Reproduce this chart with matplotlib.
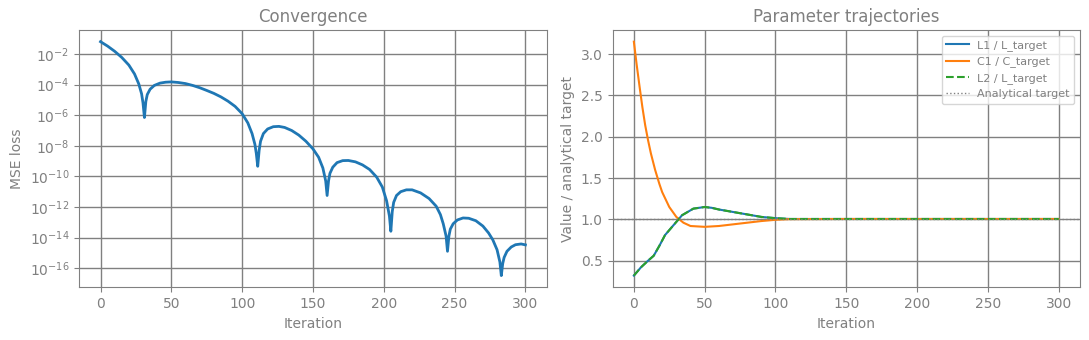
import matplotlib
matplotlib.use('Agg')
import matplotlib.pyplot as plt
import matplotlib.ticker as ticker

# Loss curve (iteration, log10 of MSE)
loss_iter = [0, 5, 10, 15, 20, 24, 27, 29, 30, 31, 32, 33, 35, 38, 42, 46, 50,
             55, 60, 65, 70, 75, 80, 85, 90, 95, 100, 104, 107, 109, 110, 111,
             112, 113, 115, 118, 122, 126, 130, 135, 140, 145, 150, 154, 157,
             159, 160, 161, 162, 164, 167, 171, 175, 180, 185, 190, 195, 199,
             202, 204, 205, 206, 207, 209, 212, 216, 220, 226, 232, 237, 240,
             242, 244, 245, 246, 247, 249, 252, 256, 260, 265, 270, 274, 277,
             280, 282, 283, 284, 285, 287, 290, 293, 297, 300]
loss_log10 = [-1.19, -1.48, -1.82, -2.22, -2.72, -3.30, -3.95, -4.60, -5.20,
              -6.15, -5.10, -4.65, -4.30, -4.05, -3.90, -3.84, -3.82, -3.86,
              -3.93, -4.05, -4.20, -4.38, -4.57, -4.80, -5.08, -5.42, -5.90,
              -6.50, -7.20, -7.90, -8.50, -9.34, -8.30, -7.70, -7.20, -6.90,
              -6.75, -6.73, -6.80, -7.00, -7.30, -7.70, -8.20, -8.75, -9.45,
              -10.30, -11.25, -10.30, -9.80, -9.40, -9.10, -8.97, -8.96, -9.05,
              -9.25, -9.55, -10.05, -10.70, -11.60, -12.60, -13.59, -12.30,
              -11.70, -11.25, -11.00, -10.88, -10.88, -11.08, -11.45, -11.95,
              -12.50, -13.10, -13.90, -14.90, -13.90, -13.45, -13.10, -12.85,
              -12.72, -12.74, -12.90, -13.25, -13.70, -14.15, -14.80, -15.60,
              -16.49, -15.70, -15.30, -14.90, -14.62, -14.47, -14.42, -14.48]
loss = [10 ** v for v in loss_log10]

# Parameter trajectories (ratio to analytical target)
c_iter = [0, 2, 4, 6, 8, 10, 12, 15, 18, 20, 25, 30, 35, 40, 50, 60, 70, 80,
          90, 100, 110, 150, 200, 250, 300]
c1_ratio = [3.15, 2.87, 2.61, 2.36, 2.14, 1.96, 1.80, 1.60, 1.43, 1.33, 1.15,
            1.03, 0.96, 0.92, 0.91, 0.92, 0.94, 0.96, 0.98, 0.995, 1.003,
            1.005, 1.005, 1.005, 1.005]
l_iter = [0, 5, 10, 14, 18, 22, 26, 30, 34, 38, 42, 46, 50, 55, 60, 70, 80,
          90, 100, 110, 150, 200, 250, 300]
l1_ratio = [0.32, 0.42, 0.50, 0.56, 0.68, 0.81, 0.89, 0.97, 1.05, 1.09, 1.13,
            1.14, 1.15, 1.14, 1.12, 1.09, 1.06, 1.03, 1.015, 1.005, 1.005,
            1.005, 1.005, 1.005]
l2_ratio = list(l1_ratio)

grey = '#808080'
plt.rcParams.update({
    'text.color': grey,
    'axes.labelcolor': grey,
    'axes.edgecolor': grey,
    'axes.titlecolor': grey,
    'xtick.color': grey,
    'ytick.color': grey,
    'grid.color': grey,
    'grid.linewidth': 1.0,
    'axes.grid': True,
})

fig, (ax1, ax2) = plt.subplots(1, 2, figsize=(10.89, 3.4), dpi=100)
fig.subplots_adjust(left=0.0728, right=0.9917, top=0.9118, bottom=0.155,
                    wspace=0.1412)

ax1.plot(loss_iter, loss, color='#1f77b4', lw=2)
ax1.set_yscale('log')
ax1.yaxis.set_major_locator(ticker.LogLocator(base=10, numticks=12))
ax1.yaxis.set_minor_locator(ticker.NullLocator())
ax1.set_title('Convergence', fontsize=12)
ax1.set_xlabel('Iteration')
ax1.set_ylabel('MSE loss')

ax2.plot(l_iter, l1_ratio, color='#1f77b4', lw=1.5, label='L1 / L_target')
ax2.plot(c_iter, c1_ratio, color='#ff7f0e', lw=1.5, label='C1 / C_target')
ax2.plot(l_iter, l2_ratio, color='#2ca02c', lw=1.5, ls='--', label='L2 / L_target')
ax2.axhline(1.0, color=grey, lw=1, ls=':', label='Analytical target')
ax2.set_title('Parameter trajectories', fontsize=12)
ax2.set_xlabel('Iteration')
ax2.set_ylabel('Value / analytical target')
ax2.legend(loc='upper right', fontsize=8)

fig.savefig('out.png', dpi=100)
